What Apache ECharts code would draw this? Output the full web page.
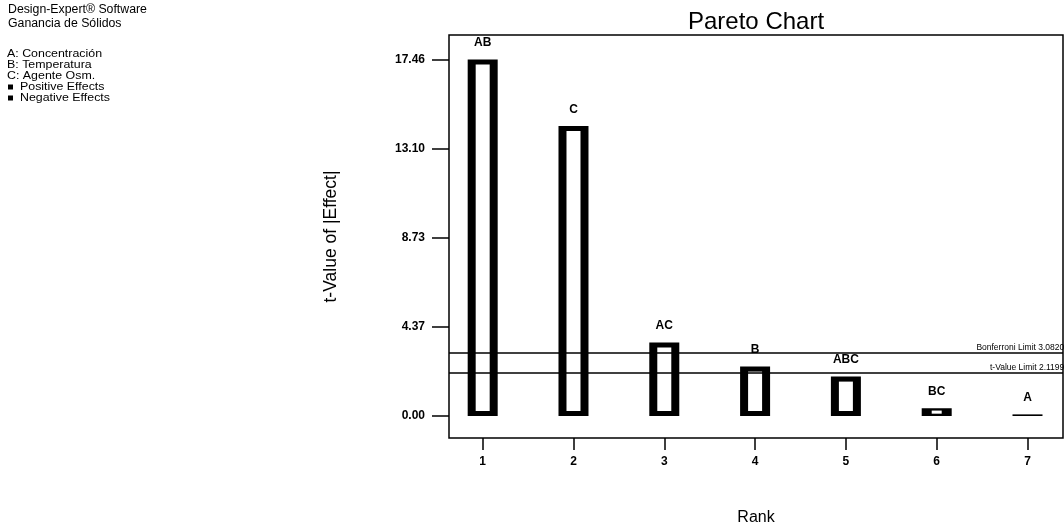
<!DOCTYPE html>
<html>
<head>
<meta charset="utf-8">
<title>Pareto Chart</title>
<script src="https://cdn.jsdelivr.net/npm/echarts@6/dist/echarts.min.js"></script>
<style>
  html, body { margin: 0; padding: 0; background: #ffffff; }
  #chart { width: 1064px; height: 530px; }
</style>
</head>
<body>
<div id="chart"></div>
<script>
// Pareto chart of t-values of the effects (Ganancia de Sólidos)
const ranks = [1, 2, 3, 4, 5, 6, 7];
const terms = ['AB', 'C', 'AC', 'B', 'ABC', 'BC', 'A'];
const tValues = [17.46, 14.2, 3.6, 2.42, 1.93, 0.38, 0.08];
const yTicks = [0, 4.37, 8.73, 13.10, 17.46];
const bonferroniLimit = 3.08206;
const tValueLimit = 2.11991;

const infoLines = ['Design-Expert® Software', 'Ganancia de Sólidos'];
const factorLines = ['A: Concentración', 'B: Temperatura', 'C: Agente Osm.'];
const effectLines = ['Positive Effects', 'Negative Effects'];

const FONT = '"Liberation Sans", Arial, Helvetica, sans-serif';
const chart = echarts.init(document.getElementById('chart'), null, { renderer: 'canvas' });

const barData = ranks.map((r, i) => [r, tValues[i]]);

// Hollow bars: thick black outline with a white core, term label above.
function renderBar(params, api) {
  const x = api.value(0);
  const v = api.value(1);
  const base = api.coord([x, 0]);
  const top = api.coord([x, v]);
  const half = 15;
  const h = base[1] - top[1];
  const hh = Math.max(h, 1.5);
  const children = [{
    type: 'rect',
    shape: { x: base[0] - half, y: base[1] - hh, width: half * 2, height: hh },
    style: { fill: '#000' }
  }];
  if (h > 4) {
    const insetY = Math.min(5, h * 0.3);
    const insetX = h < 15 ? 10 : 8;
    children.push({
      type: 'rect',
      shape: {
        x: base[0] - half + insetX,
        y: base[1] - hh + insetY,
        width: half * 2 - insetX * 2,
        height: hh - insetY * 2
      },
      style: { fill: '#fff' }
    });
  }
  children.push({
    type: 'text',
    style: {
      text: terms[params.dataIndex],
      x: base[0],
      y: base[1] - hh - 16.5,
      align: 'center',
      verticalAlign: 'middle',
      font: 'bold 12px ' + FONT,
      fill: '#000'
    }
  });
  return { type: 'group', children: children };
}

// Header and factor legend in the upper-left corner
const graphicItems = [];
infoLines.forEach((t, i) => {
  graphicItems.push({
    type: 'text', x: 8, y: 10 + i * 14,
    style: { text: t, font: '12.3px ' + FONT, fill: '#000', verticalAlign: 'middle' }
  });
});
const LIST_FONT = '10.5px ' + FONT;
factorLines.forEach((t, i) => {
  graphicItems.push({
    type: 'text', x: 7, y: 54 + i * 11, scaleX: 1.18,
    style: { text: t, font: LIST_FONT, fill: '#000', verticalAlign: 'middle' }
  });
});
effectLines.forEach((t, i) => {
  graphicItems.push({
    type: 'rect', x: 8, y: 84.5 + i * 11,
    shape: { x: 0, y: 0, width: 5, height: 5 }, style: { fill: '#000' }
  });
  graphicItems.push({
    type: 'text', x: 20, y: 87 + i * 11, scaleX: 1.18,
    style: { text: t, font: LIST_FONT, fill: '#000', verticalAlign: 'middle' }
  });
});

const option = {
  backgroundColor: '#ffffff',
  animation: false,
  title: {
    text: 'Pareto Chart',
    left: 683,
    top: 5,
    textStyle: { fontFamily: FONT, fontSize: 24, fontWeight: 'normal', color: '#000' }
  },
  graphic: graphicItems,
  grid: {
    left: 449, right: 1, top: 35, bottom: 92,
    outerBoundsMode: 'none',
    containLabel: false,
    show: true, borderColor: '#000', borderWidth: 1.5, backgroundColor: 'transparent'
  },
  xAxis: {
    type: 'value',
    min: 0.629,
    max: 7.391,
    name: 'Rank',
    nameLocation: 'middle',
    nameGap: 72,
    nameTextStyle: { fontFamily: FONT, fontSize: 16, color: '#000' },
    axisLine: { show: false, onZero: false },
    splitLine: { show: false },
    axisTick: { show: true, length: 12, lineStyle: { color: '#000', width: 1.5 }, customValues: ranks },
    axisLabel: {
      customValues: ranks, margin: 18,
      fontFamily: FONT, fontSize: 12, fontWeight: 'bold', color: '#000',
      formatter: v => String(Math.round(v))
    }
  },
  yAxis: {
    type: 'value',
    min: -1.077,
    max: 18.66,
    name: 't-Value of |Effect|',
    nameLocation: 'middle',
    nameGap: 109,
    nameRotate: 90,
    nameTextStyle: { fontFamily: FONT, fontSize: 17.5, color: '#000' },
    axisLine: { show: false, onZero: false },
    splitLine: { show: false },
    axisTick: { show: true, length: 17, lineStyle: { color: '#000', width: 1.5 }, customValues: yTicks },
    axisLabel: {
      customValues: yTicks, margin: 24,
      fontFamily: FONT, fontSize: 12, fontWeight: 'bold', color: '#000',
      formatter: v => v.toFixed(2)
    }
  },
  series: [
    {
      type: 'custom',
      name: 't-Value',
      renderItem: renderBar,
      data: barData,
      clip: false,
      silent: true
    },
    {
      type: 'line',
      name: 'Limits',
      data: [],
      silent: true,
      clip: false,
      markLine: {
        silent: true,
        symbol: 'none',
        animation: false,
        precision: 5,
        lineStyle: { color: '#000', width: 1.5, type: 'solid' },
        label: {
          show: true,
          position: 'insideEndTop',
          distance: [-6, 1],
          fontFamily: FONT,
          fontSize: 8.5,
          color: '#000',
          formatter: p => p.name
        },
        data: [
          { name: 'Bonferroni Limit ' + bonferroniLimit, yAxis: bonferroniLimit },
          { name: 't-Value Limit ' + tValueLimit, yAxis: tValueLimit }
        ]
      }
    }
  ]
};

chart.setOption(option);
</script>
</body>
</html>
